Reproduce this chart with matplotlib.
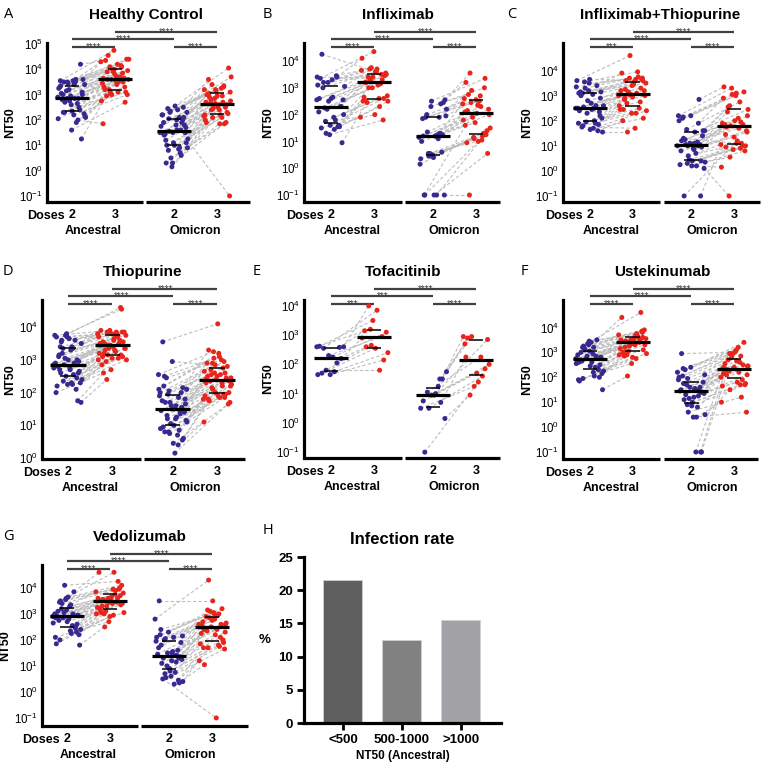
import numpy as np
import matplotlib
matplotlib.use("Agg")
import matplotlib.pyplot as plt
from matplotlib.collections import LineCollection
from matplotlib.transforms import ScaledTranslation

plt.rcParams['font.family'] = ['Liberation Sans', 'DejaVu Sans']
plt.rcParams['mathtext.fontset'] = 'custom'
plt.rcParams['mathtext.rm'] = 'Liberation Sans'
plt.rcParams['mathtext.it'] = 'Liberation Sans:italic'
plt.rcParams['mathtext.bf'] = 'Liberation Sans:bold'

# ---------------------------------------------------------------
# Data: log10(NT50) per subject
# order inside each list = subject, so index i is paired across lists
# ---------------------------------------------------------------

# A - Healthy Control
hc_anc2 = [2.9, 3.5, 2.3, 3.1, 2.6, 3.55, 2.0, 2.85, 3.4, 2.2, 3.0, 4.2, 2.75, 3.25, 1.9,
           2.8, 3.6, 2.35, 3.05, 2.5, 3.45, 2.1, 2.85, 3.5, 1.25, 2.95, 3.3, 2.65, 3.15, 2.25,
           3.55, 2.8, 2.4, 3.2, 2.05, 3.6, 2.7, 3.0, 1.6, 3.35, 2.85, 3.5, 2.15, 3.4, 2.3]
hc_anc3 = [3.6, 4.4, 3.1, 3.9, 3.3, 4.75, 1.85, 3.6, 4.1, 3.0, 3.7, 4.35, 3.5, 4.0, 2.75,
           3.55, 4.55, 3.1, 3.8, 3.3, 4.1, 3.05, 3.6, 4.2, 2.95, 3.65, 3.9, 3.45, 3.7, 3.2,
           4.4, 3.55, 3.2, 3.85, 3.0, 4.3, 3.5, 3.6, 2.7, 4.0, 3.65, 4.15, 3.1, 3.95, 3.4]
hc_omi2 = [1.6, 2.3, 0.9, 2.0, 1.2, 2.5, 0.3, 1.5, 2.1, 0.8, 1.7, 2.55, 1.4, 1.9, 0.5,
           1.5, 2.4, 1.0, 1.8, 1.1, 2.2, 0.7, 1.55, 2.3, 1.8, 1.45, 2.0, 0.15, 1.75, 0.85,
           2.45, 1.5, 1.0, 1.9, 0.6, 2.35, 1.25, 1.6, 0.3, 2.1, 1.5, 2.2, 0.9, 2.05, 1.1]
hc_omi3 = [2.7, 3.3, 2.1, 3.1, 2.4, 3.6, 1.9, 2.65, 3.2, 2.1, 2.8, 4.05, 2.5, 3.0, 1.85,
           2.6, 3.7, 2.2, 2.9, 2.3, 3.15, 2.0, 2.7, 3.4, -1.0, 2.6, 3.0, 2.5, 2.85, 2.15,
           3.25, 2.65, 2.25, 2.95, 1.9, 3.35, 2.45, 2.75, 1.85, 3.05, 2.6, 3.2, 2.2, 2.95, 2.4]

# B - Infliximab
ifx_anc2 = [2.55, 1.45, 3.2, 2.3, 1.6, 2.6, 3.4, 1.3, 2.0, 2.65, 4.25, 1.55, 2.5, 3.1, 1.8,
            2.25, 0.95, 2.6, 3.35, 1.55, 2.2, 3.05, 1.9, 3.0, 2.3, 1.25, 2.1, 3.45, 1.75, 2.55,
            3.3, 1.5, 1.6, 3.2, 3.4]
ifx_anc3 = [3.3, 2.5, 3.7, 3.2, 2.6, 3.4, 4.1, 2.3, 3.0, 3.5, 3.6, 2.55, 3.3, 3.75, 1.9,
            3.1, 2.45, 3.45, 4.35, 2.5, 3.15, 3.7, 2.7, 3.6, 3.2, 1.8, 3.0, 3.65, 2.6, 3.4,
            3.55, 2.0, 2.65, 3.5, 3.35]
ifx_omi2 = [1.3, 0.45, 2.2, 1.2, -1.0, 1.25, 2.5, 0.35, 1.1, 1.35, 2.55, -1.0, 1.2, 2.4, 0.55,
            1.15, -1.0, 1.9, 2.45, 0.5, 1.0, 1.9, 0.55, 1.95, 1.2, -1.0, 0.6, 2.3, 0.15, 1.25,
            2.0, -1.0, 0.4, 1.85, 1.3]
ifx_omi3 = [2.1, 1.2, 2.9, 2.0, 1.0, 2.15, 3.35, 1.1, 1.8, 2.3, 3.55, 0.55, 2.05, 3.2, 1.3,
            1.9, 1.5, 2.5, 2.75, 1.25, 1.7, 2.6, 1.05, 2.45, 2.2, 2.35, 0.95, 3.0, 1.15, 2.4,
            2.7, -1.0, 1.4, 2.55, 1.6]

# C - Infliximab+Thiopurine
ifxt_anc2 = [2.5, 1.7, 3.1, 2.2, 3.5, 1.9, 2.6, 3.3, 1.55, 2.45, 3.0, 1.85, 2.8, 3.6, 2.0,
             2.55, 3.15, 1.65, 2.4, 3.4, 1.95, 2.6, 3.05, 1.75, 2.35, 3.2, 2.5, 1.9, 3.55, 2.1,
             2.7, 3.15, 1.6, 2.3, 3.35, 2.5, 1.8, 2.9, 3.65, 3.1]
ifxt_anc3 = [3.05, 2.4, 3.65, 2.9, 3.7, 2.3, 3.2, 3.75, 1.55, 3.0, 3.55, 2.45, 3.3, 4.6, 2.6,
             3.1, 3.6, 2.1, 2.95, 3.9, 2.5, 3.15, 3.5, 1.7, 2.85, 3.65, 3.05, 2.45, 3.95, 2.7,
             3.2, 3.45, 2.0, 2.75, 3.7, 3.0, 2.3, 3.25, 3.6, 3.4]
ifxt_omi2 = [1.0, 0.3, 1.6, 0.85, 2.15, -1.0, 1.1, 2.0, 0.2, 1.05, 1.6, 0.4, 1.2, 2.85, 0.6,
             1.0, 1.55, -1.0, 0.95, 2.2, 0.25, 1.15, 1.65, 0.1, 0.9, 2.1, 1.05, 0.45, 2.2, 0.7,
             1.25, 1.4, 0.2, 0.8, 1.9, 1.0, 0.35, 1.1, 1.3, 0.4]
ifxt_omi3 = [1.8, 0.9, 2.6, 1.55, 3.1, 1.45, 1.85, 3.05, 0.15, 1.7, 2.55, 1.0, 2.0, 3.35, 1.1,
             1.8, 2.45, 1.2, 1.75, 3.15, 0.85, 1.9, 2.75, -1.0, 1.6, 3.0, 1.85, 1.0, 3.3, 1.05,
             2.1, 2.35, 0.8, 1.35, 2.9, 1.95, 0.55, 2.2, 1.1, 0.95]

# D - Thiopurine
thio_anc2 = [2.85, 2.3, 3.4, 2.6, 3.7, 2.0, 2.9, 3.35, 1.7, 2.75, 3.1, 2.45, 3.75, 2.8, 2.25,
             3.55, 2.65, 3.0, 2.2, 3.6, 2.85, 2.4, 3.3, 2.7, 1.75, 3.8, 2.9, 2.55, 3.2, 2.3,
             3.65, 2.8, 2.1, 3.05, 2.75, 3.4, 2.6, 2.95, 2.25, 3.7, 2.85, 2.35, 3.5, 2.7, 3.15,
             3.0, 2.5, 3.75, 3.35, 3.6]
thio_anc3 = [3.45, 3.0, 3.8, 3.2, 3.85, 2.7, 3.5, 3.75, 2.4, 3.35, 3.6, 3.1, 4.6, 3.4, 3.0,
             3.85, 3.3, 3.55, 3.05, 3.9, 3.5, 3.15, 3.75, 3.3, 2.6, 4.55, 3.45, 3.2, 3.7, 2.95,
             3.85, 3.4, 2.85, 3.6, 3.35, 3.8, 3.25, 3.5, 3.1, 3.8, 3.45, 3.05, 3.85, 3.35, 3.65,
             3.55, 3.15, 3.9, 3.7, 3.75]
thio_omi2 = [1.45, 0.8, 2.1, 1.2, 2.5, 0.55, 1.6, 2.0, 0.4, 1.3, 1.8, 1.0, 3.55, 1.5, 0.75,
             2.55, 1.25, 1.7, 0.6, 2.95, 1.45, 0.85, 1.95, 1.15, 0.15, 2.2, 1.55, 1.05, 1.9, 0.7,
             2.45, 1.4, 0.45, 1.75, 1.35, 2.05, 1.1, 1.6, 0.8, 2.15, 1.5, 0.9, 1.85, 1.2, 1.65,
             1.5, 0.95, 2.0, 1.7, 2.1]
thio_omi3 = [2.4, 1.95, 2.9, 2.2, 3.1, 1.8, 2.45, 2.85, 1.1, 2.3, 2.7, 2.0, 4.1, 2.4, 1.85,
             3.25, 2.25, 2.55, 1.75, 2.8, 2.4, 1.9, 2.75, 2.15, 1.7, 3.2, 2.5, 1.95, 2.6, 1.8,
             3.0, 2.35, 1.65, 2.5, 2.3, 2.95, 2.1, 2.45, 1.85, 3.3, 2.4, 2.0, 2.65, 2.2, 2.55,
             2.35, 1.9, 2.9, 2.6, 3.05]

# E - Tofacitinib
tofa_anc2 = [2.6, 1.75, 2.55, 2.2, 1.65, 2.62, 2.05, 1.8, 2.6, 2.25, 1.7, 2.58, 2.3, 1.65]
tofa_anc3 = [3.2, 2.4, 3.85, 2.6, 2.15, 3.5, 2.9, 1.8, 4.0, 3.1, 2.55, 3.15, 2.95, 2.65]
tofa_omi2 = [1.5, 0.5, 1.75, 1.0, -1.0, 1.5, 0.95, 0.5, 1.25, 1.05, 0.15, 0.95, 0.75, 0.7]
tofa_omi3 = [2.7, 1.6, 2.95, 2.0, 1.4, 2.9, 1.85, 1.25, 2.95, 2.25, 0.95, 2.85, 1.7, 2.25]

# F - Ustekinumab
ust_anc2 = [2.75, 2.2, 3.2, 2.5, 3.45, 1.9, 2.85, 3.1, 1.5, 2.6, 3.0, 2.3, 3.35, 2.7, 2.05,
            3.25, 2.8, 2.45, 1.85, 3.5, 2.75, 2.25, 2.95, 2.65, 2.0, 3.3, 2.9, 2.4, 3.15, 2.15,
            3.4, 2.7, 2.35, 2.85, 2.55, 3.2, 1.95, 2.8, 3.05, 2.6]
ust_anc3 = [3.4, 2.95, 3.7, 3.2, 3.8, 2.55, 3.5, 3.6, 2.05, 3.3, 3.55, 3.0, 4.6, 3.35, 2.9,
            3.75, 3.45, 3.1, 2.8, 4.4, 3.4, 3.05, 3.55, 3.3, 2.85, 3.85, 3.5, 3.15, 3.65, 2.9,
            3.9, 3.4, 3.0, 3.5, 3.25, 3.7, 2.75, 3.45, 3.6, 3.35]
ust_omi2 = [1.45, 0.9, 2.1, 1.2, 2.35, -1.0, 1.6, 2.0, 0.4, 1.3, 1.8, 1.0, 2.95, 1.5, 0.6,
            2.2, 1.55, 1.1, -1.0, 2.4, 1.45, 0.8, 1.7, 1.35, 0.4, 2.05, 1.6, 1.15, 1.9, -1.0,
            2.3, 1.4, 0.85, 1.5, 1.25, 1.95, 0.5, 1.5, 1.75, 1.4]
ust_omi3 = [2.35, 1.7, 2.95, 2.1, 3.1, 2.3, 2.5, 2.9, 1.0, 2.2, 2.7, 1.75, 3.0, 2.4, 1.2,
            2.95, 2.45, 1.8, 2.1, 3.4, 2.35, 1.65, 2.6, 2.25, 0.6, 3.05, 2.55, 1.9, 2.8, 2.0,
            3.2, 2.3, 1.7, 2.4, 2.15, 2.85, 1.5, 2.45, 2.65, 2.3]

# G - Vedolizumab
vedo_anc2 = [2.9, 2.35, 3.45, 2.6, 3.6, 2.1, 3.0, 3.4, 1.8, 2.8, 3.1, 2.45, 4.1, 2.9, 2.25,
             3.5, 2.95, 2.7, 1.85, 3.85, 2.85, 2.4, 3.3, 2.75, 2.3, 3.55, 3.0, 2.55, 3.2, 2.2,
             3.65, 2.9, 2.5, 3.05, 2.65, 3.35, 2.0, 2.95, 3.15, 2.85]
vedo_anc3 = [3.5, 3.05, 3.95, 3.3, 4.0, 2.7, 3.6, 3.9, 2.5, 3.4, 3.65, 3.1, 4.25, 3.5, 3.0,
             4.6, 3.55, 3.35, 2.9, 4.6, 3.45, 3.1, 3.8, 3.4, 3.05, 3.95, 3.6, 3.25, 3.75, 3.0,
             4.1, 3.5, 3.2, 3.6, 3.3, 3.85, 2.95, 3.55, 3.7, 3.45]
vedo_omi2 = [1.4, 0.7, 2.15, 1.2, 2.4, 0.45, 1.5, 2.1, 0.3, 1.3, 1.9, 0.8, 3.5, 1.4, 0.55,
             2.8, 1.55, 1.1, 0.35, 2.3, 1.45, 0.75, 2.0, 1.25, 0.6, 2.2, 1.6, 1.0, 1.95, 2.1,
             0.5, 1.35, 0.9, 1.7, 1.15, 2.05, 0.4, 1.5, 1.8, 1.3]
vedo_omi3 = [2.5, 1.8, 3.15, 2.3, 3.0, 1.7, 2.6, 3.1, 1.2, 2.4, 2.9, 1.9, 3.5, 2.55, 1.75,
             4.3, 2.65, 2.2, 1.05, 3.2, 2.5, 1.85, 2.95, 2.35, 1.65, 3.05, 2.7, 2.1, 2.85, 2.6,
             -1.0, 2.45, 2.0, 2.75, 2.25, 3.0, 1.7, 2.6, 2.8, 2.4]

# H - Infection rate
rate_labels = ['<500', '500-1000', '>1000']
rate_values = [21.5, 12.5, 15.5]
rate_colors = ['#5f5f5f', '#818181', '#a3a3a7']

dose_labels = ['2', '3', '2', '3']
variant_labels = ['Ancestral', 'Omicron']

# ---------------------------------------------------------------
W, H = 766, 764
fig = plt.figure(figsize=(W / 100, H / 100), dpi=100)

PURPLE = '#3b2790'
RED = '#e8251c'
BRACKET = '#404040'
positions = [0, 1, 2.37, 3.37]


def px_axes(x0, y0, x1, y1):
    # axes placed by pixel box (left, top, right, bottom)
    return fig.add_axes([x0 / W, 1 - y1 / H, (x1 - x0) / W, (y1 - y0) / H])


def px_offset(dx, dy):
    return ScaledTranslation(dx / 100, dy / 100, fig.dpi_scale_trans)


def nt50_panel(box, tick2_px, tick3b_px, ylim, yexp, groups, title, title_x,
               letter, letter_x, ylab_x, stars):
    x0, y0, x1, y1 = box
    ax = px_axes(*box)
    unit = (tick3b_px - tick2_px) / positions[3]
    xl = ((x0 - tick2_px) / unit, (x1 - tick2_px) / unit)
    ax.set_xlim(*xl)
    ax.set_yscale('log')
    ax.set_ylim(10.0 ** ylim[0], 10.0 ** ylim[1])

    vals = [10.0 ** np.array(g) for g in groups]
    n = len(vals[0])
    jit = [((np.arange(n) * 0.618034 + k * 0.37) % 1 - 0.5) * 0.66 for k in range(4)]
    xs = [positions[k] + jit[k] for k in range(4)]

    # paired dashed lines
    segs = []
    for a, b in [(0, 1), (2, 3)]:
        for i in range(n):
            segs.append([(xs[a][i], vals[a][i]), (xs[b][i], vals[b][i])])
    ax.add_collection(LineCollection(segs, colors='#bdbdbd', linewidths=0.8,
                                     linestyles=(0, (3, 2)), zorder=1))

    for k in range(4):
        col = PURPLE if k % 2 == 0 else RED
        ax.scatter(xs[k], vals[k], s=13, color=col, edgecolors='none', zorder=3,
                   clip_on=False)
        q1, med, q3 = np.percentile(vals[k], [25, 50, 75])
        ax.plot([positions[k] - 0.4, positions[k] + 0.4], [med, med], color='k',
                lw=2.3, zorder=4, solid_capstyle='butt')
        for q in (q1, q3):
            ax.plot([positions[k] - 0.17, positions[k] + 0.17], [q, q], color='k',
                    lw=1.1, zorder=4, solid_capstyle='butt')

    # spines: thick left, broken bottom
    for s in ['top', 'right', 'bottom']:
        ax.spines[s].set_visible(False)
    ax.spines['left'].set_linewidth(2.3)
    xtr = ax.get_xaxis_transform()
    ax.plot([xl[0], 1.64], [0, 0], transform=xtr, color='k', lw=2.3, clip_on=False,
            solid_capstyle='butt')
    ax.plot([1.73, xl[1]], [0, 0], transform=xtr, color='k', lw=2.3, clip_on=False,
            solid_capstyle='butt')

    ax.set_yticks([10.0 ** e for e in yexp])
    ax.set_yticklabels(['$10^{%d}$' % e for e in yexp])
    ax.yaxis.set_minor_locator(matplotlib.ticker.NullLocator())
    ax.tick_params(axis='y', length=0, pad=3, labelsize=8.3)
    ax.set_xticks(positions)
    ax.set_xticklabels(dose_labels, fontweight='bold')
    ax.tick_params(axis='x', length=0, pad=5, labelsize=9)

    ax.text(positions[0], 0, 'Doses', transform=xtr + px_offset(-7, -14),
            ha='right', va='center', fontsize=9, fontweight='bold')
    ax.text(0.5, 0, variant_labels[0], transform=xtr + px_offset(0, -29),
            ha='center', va='center', fontsize=9, fontweight='bold')
    ax.text((positions[2] + positions[3]) / 2, 0, variant_labels[1],
            transform=xtr + px_offset(0, -29), ha='center', va='center',
            fontsize=9, fontweight='bold')

    # significance brackets (pixel offsets from top of axes)
    pairs = [(0, 1, -4, stars[0], 0.5), (0, 2, 4, stars[1], 1.21),
             (1, 3, 11, stars[2], 2.2), (2, 3, -4, stars[3], 2.88)]
    for a, b, up, st, sx in pairs:
        tr = xtr + px_offset(0, up)
        ax.plot([positions[a], positions[b]], [1, 1], transform=tr, color=BRACKET,
                lw=1.6, clip_on=False, solid_capstyle='butt')
        ax.text(sx, 1, st, transform=xtr + px_offset(0, up - 3.5), ha='center',
                va='baseline', fontsize=7, color=BRACKET, clip_on=False)

    fig.text(title_x / W, 1 - (y0 - 28) / H, title, ha='center', va='center',
             fontsize=11, fontweight='bold')
    fig.text(letter_x / W, 1 - (y0 - 28) / H, letter, ha='left', va='center',
             fontsize=10.5, family=['Open Sans', 'DejaVu Sans'])
    fig.text(ylab_x / W, 1 - (y0 + y1) / 2 / H, 'NT50', rotation=90, ha='center',
             va='center', fontsize=9, fontweight='bold')
    return ax


nt50_panel((47, 43, 250, 202), 72, 217, (-1.24, 5.04), range(-1, 6),
           [hc_anc2, hc_anc3, hc_omi2, hc_omi3], 'Healthy Control', 146,
           'A', 4, 10, ['****'] * 4)
nt50_panel((304, 43, 500, 202), 331, 476, (-1.26, 4.67), range(-1, 5),
           [ifx_anc2, ifx_anc3, ifx_omi2, ifx_omi3], 'Infliximab', 398,
           'B', 263, 268, ['****'] * 4)
nt50_panel((563, 43, 760, 202), 590, 734, (-1.24, 5.1), range(-1, 5),
           [ifxt_anc2, ifxt_anc3, ifxt_omi2, ifxt_omi3], 'Infliximab+Thiopurine', 660,
           'C', 507, 527, ['***', '****', '****', '****'])
nt50_panel((42, 300, 245, 459), 68, 217, (-0.03, 4.83), range(0, 5),
           [thio_anc2, thio_anc3, thio_omi2, thio_omi3], 'Thiopurine', 143,
           'D', 3, 10, ['****'] * 4)
nt50_panel((304, 300, 500, 458), 331, 476, (-1.2, 4.2), range(-1, 5),
           [tofa_anc2, tofa_anc3, tofa_omi2, tofa_omi3], 'Tofacitinib', 403,
           'E', 253, 268, ['***', '***', '****', '****'])
nt50_panel((563, 300, 758, 459), 590, 734, (-1.28, 5.1), range(-1, 5),
           [ust_anc2, ust_anc3, ust_omi2, ust_omi3], 'Ustekinumab', 662,
           'F', 521, 527, ['****'] * 4)
nt50_panel((42, 565, 248, 726), 67, 212, (-1.31, 4.88), range(-1, 5),
           [vedo_anc2, vedo_anc3, vedo_omi2, vedo_omi3], 'Vedolizumab', 140,
           'G', 3, 5, ['****'] * 4)

# H - bar chart
axh = px_axes(304, 557, 501, 723)
xb = np.arange(len(rate_values))
axh.bar(xb, rate_values, width=0.66, color=rate_colors, edgecolor='#d0d0d0', lw=0.6)
axh.set_xlim(-0.66, 2.68)
axh.set_ylim(0, 25)
axh.set_yticks([0, 5, 10, 15, 20, 25])
axh.set_xticks(xb)
axh.set_xticklabels(rate_labels)
for s in ['top', 'right']:
    axh.spines[s].set_visible(False)
for s in ['left', 'bottom']:
    axh.spines[s].set_linewidth(2.3)
axh.tick_params(axis='both', length=5, width=2, labelsize=9.5, pad=3)
for lab in axh.get_xticklabels() + axh.get_yticklabels():
    lab.set_fontweight('bold')
axh.set_xlabel('NT50 (Ancestral)', fontsize=8.5, fontweight='bold', labelpad=3)
fig.text(265 / W, 1 - 640 / H, '%', ha='center', va='center', fontsize=9.5,
         fontweight='bold')
fig.text(402 / W, 1 - 539 / H, 'Infection rate', ha='center', va='center',
         fontsize=12, fontweight='bold')
fig.text(263 / W, 1 - 531 / H, 'H', ha='left', va='center', fontsize=10.5,
         family=['Open Sans', 'DejaVu Sans'])

fig.savefig('out.png', dpi=100)
